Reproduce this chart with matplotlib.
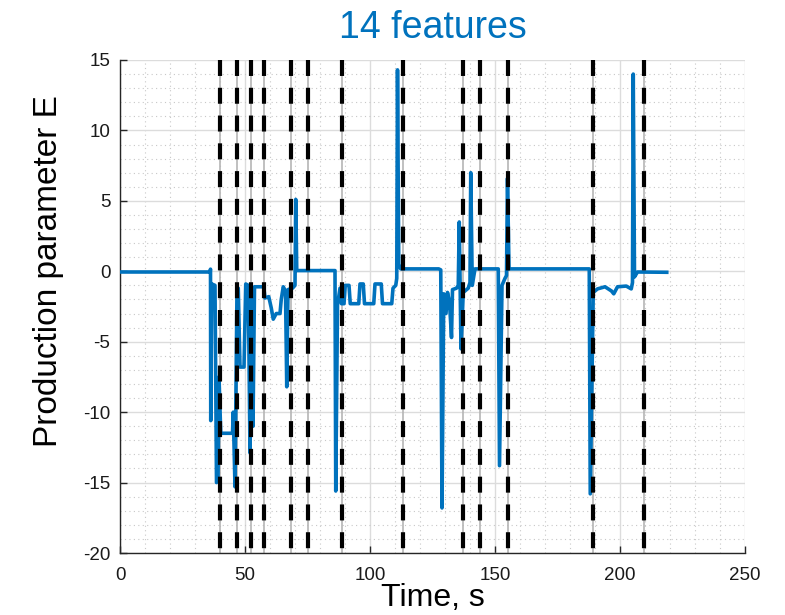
import matplotlib
matplotlib.use("Agg")
import matplotlib.pyplot as plt
from matplotlib.ticker import MultipleLocator

plt.rcParams['font.family'] = ['Liberation Sans', 'DejaVu Sans']
plt.rcParams['axes.unicode_minus'] = False

title_text = "14 features"
xlabel_text = "Time, s"
ylabel_text = "Production parameter E"

time_s = [0, 36.0, 36.2, 36.3, 36.7, 38.0, 38.6, 39.2, 39.6, 40.3, 45.0, 45.3, 46.0, 46.8, 47.3,
          48.0, 49.6, 50.3, 51.3, 52.0, 52.6, 53.2, 53.8, 57.5, 58.0, 59.5, 60.5, 61.3, 62.5,
          64.0, 64.5, 65.3, 66.2, 66.7, 67.2, 69.0, 70.0, 70.3, 70.7, 86.0, 86.3, 87.0, 88.0,
          88.6, 89.6, 90.1, 91.6, 92.1, 95.5, 96.0, 97.3, 97.8, 101.5, 102.0, 104.5, 105.0,
          108.7, 109.2, 110.3, 110.7, 111.0, 111.5, 112.3, 127.5, 128.3, 128.8, 129.5, 130.4,
          131.0, 131.8, 132.6, 133.0, 134.6, 135.3, 135.7, 136.4, 137.3, 139.3, 140.0, 140.3,
          140.9, 142.0, 151.3, 151.8, 152.8, 154.0, 154.6, 155.0, 155.6, 187.7, 188.1, 189.3,
          191.0, 194.0, 196.6, 197.5, 199.0, 202.5, 204.5, 205.0, 205.3, 205.8, 207.0, 218.7]
param_e = [-0.05, -0.05, 0.15, -10.6, -0.9, -1.0, -15.0, -14.8, -7.5, -11.5, -11.5, -10.0, -15.3,
           -1.3, -1.2, -6.8, -6.8, -0.9, -1.0, -12.9, -1.2, -11.0, -1.1, -1.1, -1.9, -1.8, -2.6,
           -3.4, -3.0, -3.0, -2.0, -1.1, -1.4, -8.2, -1.3, -1.2, -1.0, 5.1, 0.05, 0.05, -15.6,
           -2.4, -1.2, -2.3, -2.3, -1.0, -1.0, -2.3, -2.3, -0.9, -0.9, -2.3, -2.3, -0.9, -0.9,
           -2.3, -2.3, -1.2, -1.0, -0.5, 14.3, 0.5, 0.17, 0.17, 0.1, -16.8, -1.6, -3.0, -1.5,
           -2.2, -4.7, -1.3, -1.2, -1.0, 3.5, -5.5, -1.5, -1.2, -0.8, 7.0, -1.0, 0.17, 0.17,
           -13.8, -1.0, -0.5, -0.3, 6.6, 0.17, 0.17, -15.8, -1.5, -1.25, -1.1, -1.4, -1.6, -1.1,
           -1.05, -1.25, -0.8, 14.0, -0.4, -0.05, -0.07]

feature_times = [40.0, 46.9, 52.2, 57.7, 68.4, 75.0, 88.7, 113.2, 137.1, 144.0, 155.3, 189.1, 209.4]

x_ticks = [0, 50, 100, 150, 200, 250]
y_ticks = [-20, -15, -10, -5, 0, 5, 10, 15]

fig = plt.figure(figsize=(7.85, 6.15), dpi=100)
ax = fig.add_axes([120/785, 62/615, 625/785, 493/615])

ax.set_xlim(0, 250)
ax.set_ylim(-20, 15)
ax.set_xticks(x_ticks)
ax.set_yticks(y_ticks)
ax.xaxis.set_minor_locator(MultipleLocator(10))
ax.yaxis.set_minor_locator(MultipleLocator(1))
ax.grid(which='major', color='#dcdcdc', linewidth=1.0, linestyle='-')
ax.grid(which='minor', color='#c8c8c8', linewidth=0.8, linestyle=(0, (1, 3)))
ax.set_axisbelow(True)

for t in feature_times:
    ax.plot([t, t], [15, -20], color='#b5b5b5', linewidth=1.2, zorder=1.5)

ax.plot(time_s, param_e, color='#0072BD', linewidth=2.6, zorder=3, solid_joinstyle='round')

for t in feature_times:
    ax.plot([t, t], [15, -20], color='black', linewidth=3.0,
            linestyle=(0, (11.5/3, 8.5/3)), zorder=4, clip_on=False)

for s in ['top', 'right']:
    ax.spines[s].set_visible(False)
for s in ['left', 'bottom']:
    ax.spines[s].set_color('#262626')
    ax.spines[s].set_linewidth(1.0)

ax.tick_params(which='major', direction='in', length=5, width=1, colors='#262626',
               labelsize=13.5, labelcolor='#1a1a1a')
ax.tick_params(axis='x', pad=10)
ax.tick_params(axis='y', pad=7)
ax.tick_params(which='minor', length=0)

ax.set_xlabel(xlabel_text, fontsize=23, color='black', labelpad=-1)
ax.set_ylabel(ylabel_text, fontsize=24, color='black')
ax.yaxis.set_label_coords(-0.089, 0.572)
ax.set_title(title_text, fontsize=27, color='#0072BD', pad=16)

fig.savefig('out.png', dpi=100)
